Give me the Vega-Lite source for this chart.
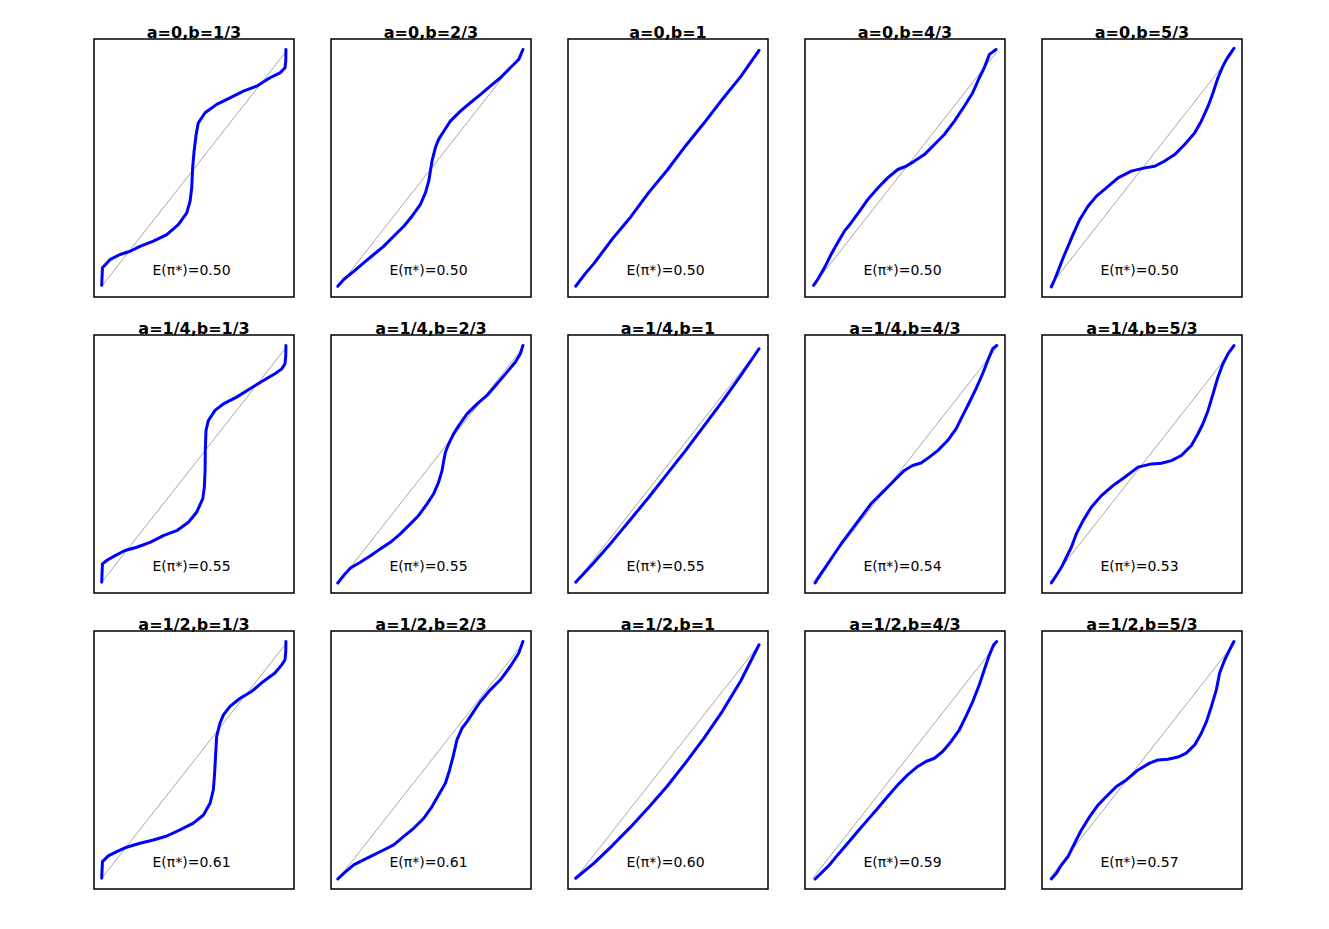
{
"$schema":"https://vega.github.io/schema/vega-lite/v6.json",
"padding":{"left":93,"top":24,"right":10,"bottom":10},
"background":"white",
"data":{"values":[
{"p":"a=0,b=1/3","k":"c","x":0,"y":0.004},{"p":"a=0,b=1/3","k":"c","x":0.004,"y":0.079},{"p":"a=0,b=1/3","k":"c","x":0.045,"y":0.114},{"p":"a=0,b=1/3","k":"c","x":0.1,"y":0.136},{"p":"a=0,b=1/3","k":"c","x":0.155,"y":0.15},{"p":"a=0,b=1/3","k":"c","x":0.209,"y":0.171},{"p":"a=0,b=1/3","k":"c","x":0.282,"y":0.193},{"p":"a=0,b=1/3","k":"c","x":0.355,"y":0.221},{"p":"a=0,b=1/3","k":"c","x":0.418,"y":0.264},{"p":"a=0,b=1/3","k":"c","x":0.464,"y":0.314},{"p":"a=0,b=1/3","k":"c","x":0.482,"y":0.364},{"p":"a=0,b=1/3","k":"c","x":0.491,"y":0.421},{"p":"a=0,b=1/3","k":"c","x":0.496,"y":0.507},{"p":"a=0,b=1/3","k":"c","x":0.504,"y":0.579},{"p":"a=0,b=1/3","k":"c","x":0.515,"y":0.65},{"p":"a=0,b=1/3","k":"c","x":0.527,"y":0.7},{"p":"a=0,b=1/3","k":"c","x":0.564,"y":0.743},{"p":"a=0,b=1/3","k":"c","x":0.627,"y":0.779},{"p":"a=0,b=1/3","k":"c","x":0.7,"y":0.807},{"p":"a=0,b=1/3","k":"c","x":0.773,"y":0.836},{"p":"a=0,b=1/3","k":"c","x":0.845,"y":0.857},{"p":"a=0,b=1/3","k":"c","x":0.918,"y":0.893},{"p":"a=0,b=1/3","k":"c","x":0.973,"y":0.914},{"p":"a=0,b=1/3","k":"c","x":1.0,"y":0.936},{"p":"a=0,b=1/3","k":"c","x":1.004,"y":0.964},{"p":"a=0,b=1/3","k":"c","x":1.005,"y":1.014},
{"p":"a=0,b=2/3","k":"c","x":-0.005,"y":0},{"p":"a=0,b=2/3","k":"c","x":0.027,"y":0.029},{"p":"a=0,b=2/3","k":"c","x":0.082,"y":0.064},{"p":"a=0,b=2/3","k":"c","x":0.136,"y":0.1},{"p":"a=0,b=2/3","k":"c","x":0.191,"y":0.136},{"p":"a=0,b=2/3","k":"c","x":0.245,"y":0.171},{"p":"a=0,b=2/3","k":"c","x":0.3,"y":0.214},{"p":"a=0,b=2/3","k":"c","x":0.355,"y":0.257},{"p":"a=0,b=2/3","k":"c","x":0.4,"y":0.3},{"p":"a=0,b=2/3","k":"c","x":0.445,"y":0.35},{"p":"a=0,b=2/3","k":"c","x":0.473,"y":0.4},{"p":"a=0,b=2/3","k":"c","x":0.491,"y":0.45},{"p":"a=0,b=2/3","k":"c","x":0.5,"y":0.493},{"p":"a=0,b=2/3","k":"c","x":0.509,"y":0.536},{"p":"a=0,b=2/3","k":"c","x":0.527,"y":0.593},{"p":"a=0,b=2/3","k":"c","x":0.545,"y":0.629},{"p":"a=0,b=2/3","k":"c","x":0.573,"y":0.664},{"p":"a=0,b=2/3","k":"c","x":0.609,"y":0.707},{"p":"a=0,b=2/3","k":"c","x":0.664,"y":0.75},{"p":"a=0,b=2/3","k":"c","x":0.718,"y":0.786},{"p":"a=0,b=2/3","k":"c","x":0.773,"y":0.821},{"p":"a=0,b=2/3","k":"c","x":0.827,"y":0.857},{"p":"a=0,b=2/3","k":"c","x":0.882,"y":0.893},{"p":"a=0,b=2/3","k":"c","x":0.936,"y":0.936},{"p":"a=0,b=2/3","k":"c","x":0.982,"y":0.971},{"p":"a=0,b=2/3","k":"c","x":1.005,"y":1.014},
{"p":"a=0,b=1","k":"c","x":0,"y":0},{"p":"a=0,b=1","k":"c","x":0.05,"y":0.052},{"p":"a=0,b=1","k":"c","x":0.1,"y":0.098},{"p":"a=0,b=1","k":"c","x":0.2,"y":0.203},{"p":"a=0,b=1","k":"c","x":0.3,"y":0.297},{"p":"a=0,b=1","k":"c","x":0.4,"y":0.403},{"p":"a=0,b=1","k":"c","x":0.5,"y":0.498},{"p":"a=0,b=1","k":"c","x":0.6,"y":0.602},{"p":"a=0,b=1","k":"c","x":0.7,"y":0.699},{"p":"a=0,b=1","k":"c","x":0.8,"y":0.801},{"p":"a=0,b=1","k":"c","x":0.9,"y":0.898},{"p":"a=0,b=1","k":"c","x":1.0,"y":1.01},
{"p":"a=0,b=4/3","k":"c","x":0.005,"y":0.004},{"p":"a=0,b=4/3","k":"c","x":0.027,"y":0.029},{"p":"a=0,b=4/3","k":"c","x":0.064,"y":0.079},{"p":"a=0,b=4/3","k":"c","x":0.1,"y":0.136},{"p":"a=0,b=4/3","k":"c","x":0.136,"y":0.186},{"p":"a=0,b=4/3","k":"c","x":0.173,"y":0.236},{"p":"a=0,b=4/3","k":"c","x":0.209,"y":0.271},{"p":"a=0,b=4/3","k":"c","x":0.255,"y":0.321},{"p":"a=0,b=4/3","k":"c","x":0.3,"y":0.371},{"p":"a=0,b=4/3","k":"c","x":0.355,"y":0.421},{"p":"a=0,b=4/3","k":"c","x":0.409,"y":0.464},{"p":"a=0,b=4/3","k":"c","x":0.464,"y":0.5},{"p":"a=0,b=4/3","k":"c","x":0.509,"y":0.514},{"p":"a=0,b=4/3","k":"c","x":0.555,"y":0.536},{"p":"a=0,b=4/3","k":"c","x":0.609,"y":0.564},{"p":"a=0,b=4/3","k":"c","x":0.664,"y":0.607},{"p":"a=0,b=4/3","k":"c","x":0.718,"y":0.65},{"p":"a=0,b=4/3","k":"c","x":0.773,"y":0.707},{"p":"a=0,b=4/3","k":"c","x":0.827,"y":0.771},{"p":"a=0,b=4/3","k":"c","x":0.873,"y":0.829},{"p":"a=0,b=4/3","k":"c","x":0.909,"y":0.893},{"p":"a=0,b=4/3","k":"c","x":0.936,"y":0.936},{"p":"a=0,b=4/3","k":"c","x":0.964,"y":0.993},{"p":"a=0,b=4/3","k":"c","x":1.0,"y":1.014},
{"p":"a=0,b=5/3","k":"c","x":0.009,"y":-0.003},{"p":"a=0,b=5/3","k":"c","x":0.027,"y":0.029},{"p":"a=0,b=5/3","k":"c","x":0.045,"y":0.064},{"p":"a=0,b=5/3","k":"c","x":0.073,"y":0.121},{"p":"a=0,b=5/3","k":"c","x":0.1,"y":0.171},{"p":"a=0,b=5/3","k":"c","x":0.127,"y":0.221},{"p":"a=0,b=5/3","k":"c","x":0.164,"y":0.286},{"p":"a=0,b=5/3","k":"c","x":0.209,"y":0.343},{"p":"a=0,b=5/3","k":"c","x":0.255,"y":0.386},{"p":"a=0,b=5/3","k":"c","x":0.309,"y":0.421},{"p":"a=0,b=5/3","k":"c","x":0.373,"y":0.464},{"p":"a=0,b=5/3","k":"c","x":0.445,"y":0.493},{"p":"a=0,b=5/3","k":"c","x":0.518,"y":0.507},{"p":"a=0,b=5/3","k":"c","x":0.573,"y":0.514},{"p":"a=0,b=5/3","k":"c","x":0.627,"y":0.536},{"p":"a=0,b=5/3","k":"c","x":0.682,"y":0.564},{"p":"a=0,b=5/3","k":"c","x":0.736,"y":0.607},{"p":"a=0,b=5/3","k":"c","x":0.791,"y":0.657},{"p":"a=0,b=5/3","k":"c","x":0.827,"y":0.707},{"p":"a=0,b=5/3","k":"c","x":0.864,"y":0.771},{"p":"a=0,b=5/3","k":"c","x":0.891,"y":0.829},{"p":"a=0,b=5/3","k":"c","x":0.918,"y":0.893},{"p":"a=0,b=5/3","k":"c","x":0.945,"y":0.943},{"p":"a=0,b=5/3","k":"c","x":0.964,"y":0.971},{"p":"a=0,b=5/3","k":"c","x":0.982,"y":0.993},{"p":"a=0,b=5/3","k":"c","x":1.005,"y":1.019},
{"p":"a=1/4,b=1/3","k":"c","x":0,"y":0},{"p":"a=1/4,b=1/3","k":"c","x":0.004,"y":0.079},{"p":"a=1/4,b=1/3","k":"c","x":0.027,"y":0.093},{"p":"a=1/4,b=1/3","k":"c","x":0.073,"y":0.114},{"p":"a=1/4,b=1/3","k":"c","x":0.127,"y":0.136},{"p":"a=1/4,b=1/3","k":"c","x":0.191,"y":0.15},{"p":"a=1/4,b=1/3","k":"c","x":0.264,"y":0.171},{"p":"a=1/4,b=1/3","k":"c","x":0.336,"y":0.2},{"p":"a=1/4,b=1/3","k":"c","x":0.409,"y":0.221},{"p":"a=1/4,b=1/3","k":"c","x":0.473,"y":0.257},{"p":"a=1/4,b=1/3","k":"c","x":0.518,"y":0.3},{"p":"a=1/4,b=1/3","k":"c","x":0.551,"y":0.357},{"p":"a=1/4,b=1/3","k":"c","x":0.56,"y":0.407},{"p":"a=1/4,b=1/3","k":"c","x":0.564,"y":0.479},{"p":"a=1/4,b=1/3","k":"c","x":0.565,"y":0.564},{"p":"a=1/4,b=1/3","k":"c","x":0.569,"y":0.65},{"p":"a=1/4,b=1/3","k":"c","x":0.582,"y":0.693},{"p":"a=1/4,b=1/3","k":"c","x":0.618,"y":0.736},{"p":"a=1/4,b=1/3","k":"c","x":0.664,"y":0.764},{"p":"a=1/4,b=1/3","k":"c","x":0.736,"y":0.793},{"p":"a=1/4,b=1/3","k":"c","x":0.809,"y":0.829},{"p":"a=1/4,b=1/3","k":"c","x":0.882,"y":0.864},{"p":"a=1/4,b=1/3","k":"c","x":0.945,"y":0.893},{"p":"a=1/4,b=1/3","k":"c","x":0.982,"y":0.914},{"p":"a=1/4,b=1/3","k":"c","x":1.0,"y":0.936},{"p":"a=1/4,b=1/3","k":"c","x":1.004,"y":0.971},{"p":"a=1/4,b=1/3","k":"c","x":1.005,"y":1.014},
{"p":"a=1/4,b=2/3","k":"c","x":-0.005,"y":-0.003},{"p":"a=1/4,b=2/3","k":"c","x":0.027,"y":0.029},{"p":"a=1/4,b=2/3","k":"c","x":0.064,"y":0.061},{"p":"a=1/4,b=2/3","k":"c","x":0.118,"y":0.086},{"p":"a=1/4,b=2/3","k":"c","x":0.173,"y":0.114},{"p":"a=1/4,b=2/3","k":"c","x":0.227,"y":0.143},{"p":"a=1/4,b=2/3","k":"c","x":0.282,"y":0.171},{"p":"a=1/4,b=2/3","k":"c","x":0.336,"y":0.207},{"p":"a=1/4,b=2/3","k":"c","x":0.391,"y":0.25},{"p":"a=1/4,b=2/3","k":"c","x":0.436,"y":0.286},{"p":"a=1/4,b=2/3","k":"c","x":0.482,"y":0.336},{"p":"a=1/4,b=2/3","k":"c","x":0.518,"y":0.379},{"p":"a=1/4,b=2/3","k":"c","x":0.545,"y":0.429},{"p":"a=1/4,b=2/3","k":"c","x":0.564,"y":0.479},{"p":"a=1/4,b=2/3","k":"c","x":0.573,"y":0.521},{"p":"a=1/4,b=2/3","k":"c","x":0.582,"y":0.557},{"p":"a=1/4,b=2/3","k":"c","x":0.6,"y":0.593},{"p":"a=1/4,b=2/3","k":"c","x":0.627,"y":0.636},{"p":"a=1/4,b=2/3","k":"c","x":0.655,"y":0.671},{"p":"a=1/4,b=2/3","k":"c","x":0.7,"y":0.721},{"p":"a=1/4,b=2/3","k":"c","x":0.755,"y":0.764},{"p":"a=1/4,b=2/3","k":"c","x":0.809,"y":0.8},{"p":"a=1/4,b=2/3","k":"c","x":0.864,"y":0.85},{"p":"a=1/4,b=2/3","k":"c","x":0.918,"y":0.9},{"p":"a=1/4,b=2/3","k":"c","x":0.964,"y":0.943},{"p":"a=1/4,b=2/3","k":"c","x":0.991,"y":0.979},{"p":"a=1/4,b=2/3","k":"c","x":1.005,"y":1.014},
{"p":"a=1/4,b=1","k":"c","x":0,"y":0},{"p":"a=1/4,b=1","k":"c","x":0.1,"y":0.085},{"p":"a=1/4,b=1","k":"c","x":0.2,"y":0.175},{"p":"a=1/4,b=1","k":"c","x":0.3,"y":0.27},{"p":"a=1/4,b=1","k":"c","x":0.4,"y":0.365},{"p":"a=1/4,b=1","k":"c","x":0.5,"y":0.465},{"p":"a=1/4,b=1","k":"c","x":0.6,"y":0.565},{"p":"a=1/4,b=1","k":"c","x":0.7,"y":0.67},{"p":"a=1/4,b=1","k":"c","x":0.8,"y":0.775},{"p":"a=1/4,b=1","k":"c","x":0.9,"y":0.885},{"p":"a=1/4,b=1","k":"c","x":1.0,"y":1.0},
{"p":"a=1/4,b=4/3","k":"c","x":0.013,"y":-0.003},{"p":"a=1/4,b=4/3","k":"c","x":0.045,"y":0.036},{"p":"a=1/4,b=4/3","k":"c","x":0.082,"y":0.079},{"p":"a=1/4,b=4/3","k":"c","x":0.118,"y":0.121},{"p":"a=1/4,b=4/3","k":"c","x":0.155,"y":0.164},{"p":"a=1/4,b=4/3","k":"c","x":0.209,"y":0.221},{"p":"a=1/4,b=4/3","k":"c","x":0.264,"y":0.279},{"p":"a=1/4,b=4/3","k":"c","x":0.318,"y":0.336},{"p":"a=1/4,b=4/3","k":"c","x":0.382,"y":0.386},{"p":"a=1/4,b=4/3","k":"c","x":0.445,"y":0.436},{"p":"a=1/4,b=4/3","k":"c","x":0.5,"y":0.479},{"p":"a=1/4,b=4/3","k":"c","x":0.545,"y":0.5},{"p":"a=1/4,b=4/3","k":"c","x":0.591,"y":0.511},{"p":"a=1/4,b=4/3","k":"c","x":0.636,"y":0.536},{"p":"a=1/4,b=4/3","k":"c","x":0.682,"y":0.564},{"p":"a=1/4,b=4/3","k":"c","x":0.736,"y":0.607},{"p":"a=1/4,b=4/3","k":"c","x":0.782,"y":0.657},{"p":"a=1/4,b=4/3","k":"c","x":0.818,"y":0.714},{"p":"a=1/4,b=4/3","k":"c","x":0.855,"y":0.771},{"p":"a=1/4,b=4/3","k":"c","x":0.891,"y":0.829},{"p":"a=1/4,b=4/3","k":"c","x":0.927,"y":0.893},{"p":"a=1/4,b=4/3","k":"c","x":0.955,"y":0.95},{"p":"a=1/4,b=4/3","k":"c","x":0.982,"y":1.0},{"p":"a=1/4,b=4/3","k":"c","x":1.004,"y":1.014},
{"p":"a=1/4,b=5/3","k":"c","x":0.009,"y":-0.003},{"p":"a=1/4,b=5/3","k":"c","x":0.036,"y":0.029},{"p":"a=1/4,b=5/3","k":"c","x":0.064,"y":0.064},{"p":"a=1/4,b=5/3","k":"c","x":0.091,"y":0.107},{"p":"a=1/4,b=5/3","k":"c","x":0.118,"y":0.15},{"p":"a=1/4,b=5/3","k":"c","x":0.145,"y":0.207},{"p":"a=1/4,b=5/3","k":"c","x":0.182,"y":0.264},{"p":"a=1/4,b=5/3","k":"c","x":0.227,"y":0.321},{"p":"a=1/4,b=5/3","k":"c","x":0.282,"y":0.371},{"p":"a=1/4,b=5/3","k":"c","x":0.345,"y":0.414},{"p":"a=1/4,b=5/3","k":"c","x":0.409,"y":0.45},{"p":"a=1/4,b=5/3","k":"c","x":0.482,"y":0.493},{"p":"a=1/4,b=5/3","k":"c","x":0.555,"y":0.507},{"p":"a=1/4,b=5/3","k":"c","x":0.609,"y":0.51},{"p":"a=1/4,b=5/3","k":"c","x":0.664,"y":0.521},{"p":"a=1/4,b=5/3","k":"c","x":0.718,"y":0.543},{"p":"a=1/4,b=5/3","k":"c","x":0.773,"y":0.586},{"p":"a=1/4,b=5/3","k":"c","x":0.809,"y":0.636},{"p":"a=1/4,b=5/3","k":"c","x":0.836,"y":0.679},{"p":"a=1/4,b=5/3","k":"c","x":0.864,"y":0.736},{"p":"a=1/4,b=5/3","k":"c","x":0.891,"y":0.807},{"p":"a=1/4,b=5/3","k":"c","x":0.918,"y":0.879},{"p":"a=1/4,b=5/3","k":"c","x":0.945,"y":0.936},{"p":"a=1/4,b=5/3","k":"c","x":0.973,"y":0.979},{"p":"a=1/4,b=5/3","k":"c","x":1.005,"y":1.014},
{"p":"a=1/2,b=1/3","k":"c","x":0,"y":0},{"p":"a=1/2,b=1/3","k":"c","x":0.004,"y":0.071},{"p":"a=1/2,b=1/3","k":"c","x":0.036,"y":0.096},{"p":"a=1/2,b=1/3","k":"c","x":0.082,"y":0.114},{"p":"a=1/2,b=1/3","k":"c","x":0.136,"y":0.133},{"p":"a=1/2,b=1/3","k":"c","x":0.209,"y":0.15},{"p":"a=1/2,b=1/3","k":"c","x":0.282,"y":0.164},{"p":"a=1/2,b=1/3","k":"c","x":0.355,"y":0.181},{"p":"a=1/2,b=1/3","k":"c","x":0.427,"y":0.207},{"p":"a=1/2,b=1/3","k":"c","x":0.5,"y":0.236},{"p":"a=1/2,b=1/3","k":"c","x":0.555,"y":0.271},{"p":"a=1/2,b=1/3","k":"c","x":0.591,"y":0.321},{"p":"a=1/2,b=1/3","k":"c","x":0.609,"y":0.379},{"p":"a=1/2,b=1/3","k":"c","x":0.616,"y":0.45},{"p":"a=1/2,b=1/3","k":"c","x":0.622,"y":0.536},{"p":"a=1/2,b=1/3","k":"c","x":0.627,"y":0.607},{"p":"a=1/2,b=1/3","k":"c","x":0.645,"y":0.664},{"p":"a=1/2,b=1/3","k":"c","x":0.664,"y":0.7},{"p":"a=1/2,b=1/3","k":"c","x":0.7,"y":0.736},{"p":"a=1/2,b=1/3","k":"c","x":0.755,"y":0.771},{"p":"a=1/2,b=1/3","k":"c","x":0.818,"y":0.8},{"p":"a=1/2,b=1/3","k":"c","x":0.882,"y":0.843},{"p":"a=1/2,b=1/3","k":"c","x":0.945,"y":0.879},{"p":"a=1/2,b=1/3","k":"c","x":0.982,"y":0.914},{"p":"a=1/2,b=1/3","k":"c","x":1.0,"y":0.936},{"p":"a=1/2,b=1/3","k":"c","x":1.004,"y":0.971},{"p":"a=1/2,b=1/3","k":"c","x":1.005,"y":1.014},
{"p":"a=1/2,b=2/3","k":"c","x":-0.005,"y":-0.003},{"p":"a=1/2,b=2/3","k":"c","x":0.027,"y":0.021},{"p":"a=1/2,b=2/3","k":"c","x":0.082,"y":0.057},{"p":"a=1/2,b=2/3","k":"c","x":0.136,"y":0.079},{"p":"a=1/2,b=2/3","k":"c","x":0.191,"y":0.1},{"p":"a=1/2,b=2/3","k":"c","x":0.245,"y":0.121},{"p":"a=1/2,b=2/3","k":"c","x":0.3,"y":0.143},{"p":"a=1/2,b=2/3","k":"c","x":0.355,"y":0.179},{"p":"a=1/2,b=2/3","k":"c","x":0.409,"y":0.214},{"p":"a=1/2,b=2/3","k":"c","x":0.464,"y":0.257},{"p":"a=1/2,b=2/3","k":"c","x":0.509,"y":0.307},{"p":"a=1/2,b=2/3","k":"c","x":0.545,"y":0.357},{"p":"a=1/2,b=2/3","k":"c","x":0.582,"y":0.407},{"p":"a=1/2,b=2/3","k":"c","x":0.605,"y":0.464},{"p":"a=1/2,b=2/3","k":"c","x":0.624,"y":0.521},{"p":"a=1/2,b=2/3","k":"c","x":0.645,"y":0.593},{"p":"a=1/2,b=2/3","k":"c","x":0.673,"y":0.643},{"p":"a=1/2,b=2/3","k":"c","x":0.7,"y":0.671},{"p":"a=1/2,b=2/3","k":"c","x":0.736,"y":0.714},{"p":"a=1/2,b=2/3","k":"c","x":0.773,"y":0.757},{"p":"a=1/2,b=2/3","k":"c","x":0.827,"y":0.807},{"p":"a=1/2,b=2/3","k":"c","x":0.882,"y":0.85},{"p":"a=1/2,b=2/3","k":"c","x":0.936,"y":0.907},{"p":"a=1/2,b=2/3","k":"c","x":0.982,"y":0.964},{"p":"a=1/2,b=2/3","k":"c","x":1.005,"y":1.014},
{"p":"a=1/2,b=1","k":"c","x":0,"y":0},{"p":"a=1/2,b=1","k":"c","x":0.1,"y":0.065},{"p":"a=1/2,b=1","k":"c","x":0.2,"y":0.14},{"p":"a=1/2,b=1","k":"c","x":0.3,"y":0.22},{"p":"a=1/2,b=1","k":"c","x":0.4,"y":0.305},{"p":"a=1/2,b=1","k":"c","x":0.5,"y":0.395},{"p":"a=1/2,b=1","k":"c","x":0.6,"y":0.495},{"p":"a=1/2,b=1","k":"c","x":0.7,"y":0.6},{"p":"a=1/2,b=1","k":"c","x":0.8,"y":0.715},{"p":"a=1/2,b=1","k":"c","x":0.9,"y":0.845},{"p":"a=1/2,b=1","k":"c","x":1.0,"y":1.0},
{"p":"a=1/2,b=4/3","k":"c","x":0.013,"y":-0.003},{"p":"a=1/2,b=4/3","k":"c","x":0.045,"y":0.021},{"p":"a=1/2,b=4/3","k":"c","x":0.091,"y":0.057},{"p":"a=1/2,b=4/3","k":"c","x":0.136,"y":0.1},{"p":"a=1/2,b=4/3","k":"c","x":0.191,"y":0.15},{"p":"a=1/2,b=4/3","k":"c","x":0.245,"y":0.2},{"p":"a=1/2,b=4/3","k":"c","x":0.3,"y":0.25},{"p":"a=1/2,b=4/3","k":"c","x":0.355,"y":0.3},{"p":"a=1/2,b=4/3","k":"c","x":0.409,"y":0.35},{"p":"a=1/2,b=4/3","k":"c","x":0.464,"y":0.4},{"p":"a=1/2,b=4/3","k":"c","x":0.518,"y":0.443},{"p":"a=1/2,b=4/3","k":"c","x":0.573,"y":0.479},{"p":"a=1/2,b=4/3","k":"c","x":0.618,"y":0.5},{"p":"a=1/2,b=4/3","k":"c","x":0.664,"y":0.514},{"p":"a=1/2,b=4/3","k":"c","x":0.709,"y":0.543},{"p":"a=1/2,b=4/3","k":"c","x":0.755,"y":0.586},{"p":"a=1/2,b=4/3","k":"c","x":0.8,"y":0.636},{"p":"a=1/2,b=4/3","k":"c","x":0.836,"y":0.693},{"p":"a=1/2,b=4/3","k":"c","x":0.873,"y":0.757},{"p":"a=1/2,b=4/3","k":"c","x":0.909,"y":0.829},{"p":"a=1/2,b=4/3","k":"c","x":0.936,"y":0.893},{"p":"a=1/2,b=4/3","k":"c","x":0.964,"y":0.957},{"p":"a=1/2,b=4/3","k":"c","x":0.987,"y":1.0},{"p":"a=1/2,b=4/3","k":"c","x":1.004,"y":1.014},
{"p":"a=1/2,b=5/3","k":"c","x":0.009,"y":-0.003},{"p":"a=1/2,b=5/3","k":"c","x":0.036,"y":0.021},{"p":"a=1/2,b=5/3","k":"c","x":0.064,"y":0.057},{"p":"a=1/2,b=5/3","k":"c","x":0.1,"y":0.093},{"p":"a=1/2,b=5/3","k":"c","x":0.136,"y":0.15},{"p":"a=1/2,b=5/3","k":"c","x":0.173,"y":0.207},{"p":"a=1/2,b=5/3","k":"c","x":0.218,"y":0.264},{"p":"a=1/2,b=5/3","k":"c","x":0.264,"y":0.314},{"p":"a=1/2,b=5/3","k":"c","x":0.309,"y":0.35},{"p":"a=1/2,b=5/3","k":"c","x":0.364,"y":0.393},{"p":"a=1/2,b=5/3","k":"c","x":0.418,"y":0.421},{"p":"a=1/2,b=5/3","k":"c","x":0.482,"y":0.464},{"p":"a=1/2,b=5/3","k":"c","x":0.545,"y":0.493},{"p":"a=1/2,b=5/3","k":"c","x":0.591,"y":0.507},{"p":"a=1/2,b=5/3","k":"c","x":0.645,"y":0.51},{"p":"a=1/2,b=5/3","k":"c","x":0.7,"y":0.519},{"p":"a=1/2,b=5/3","k":"c","x":0.745,"y":0.536},{"p":"a=1/2,b=5/3","k":"c","x":0.791,"y":0.571},{"p":"a=1/2,b=5/3","k":"c","x":0.827,"y":0.621},{"p":"a=1/2,b=5/3","k":"c","x":0.855,"y":0.671},{"p":"a=1/2,b=5/3","k":"c","x":0.882,"y":0.736},{"p":"a=1/2,b=5/3","k":"c","x":0.909,"y":0.807},{"p":"a=1/2,b=5/3","k":"c","x":0.927,"y":0.879},{"p":"a=1/2,b=5/3","k":"c","x":0.955,"y":0.936},{"p":"a=1/2,b=5/3","k":"c","x":0.982,"y":0.979},{"p":"a=1/2,b=5/3","k":"c","x":1.005,"y":1.014},
{"p":"a=0,b=1/3","k":"d","x":0,"y":0},{"p":"a=0,b=1/3","k":"d","x":1,"y":1},
{"p":"a=0,b=2/3","k":"d","x":0,"y":0},{"p":"a=0,b=2/3","k":"d","x":1,"y":1},
{"p":"a=0,b=1","k":"d","x":0,"y":0},{"p":"a=0,b=1","k":"d","x":1,"y":1},
{"p":"a=0,b=4/3","k":"d","x":0,"y":0},{"p":"a=0,b=4/3","k":"d","x":1,"y":1},
{"p":"a=0,b=5/3","k":"d","x":0,"y":0},{"p":"a=0,b=5/3","k":"d","x":1,"y":1},
{"p":"a=1/4,b=1/3","k":"d","x":0,"y":0},{"p":"a=1/4,b=1/3","k":"d","x":1,"y":1},
{"p":"a=1/4,b=2/3","k":"d","x":0,"y":0},{"p":"a=1/4,b=2/3","k":"d","x":1,"y":1},
{"p":"a=1/4,b=1","k":"d","x":0,"y":0},{"p":"a=1/4,b=1","k":"d","x":1,"y":1},
{"p":"a=1/4,b=4/3","k":"d","x":0,"y":0},{"p":"a=1/4,b=4/3","k":"d","x":1,"y":1},
{"p":"a=1/4,b=5/3","k":"d","x":0,"y":0},{"p":"a=1/4,b=5/3","k":"d","x":1,"y":1},
{"p":"a=1/2,b=1/3","k":"d","x":0,"y":0},{"p":"a=1/2,b=1/3","k":"d","x":1,"y":1},
{"p":"a=1/2,b=2/3","k":"d","x":0,"y":0},{"p":"a=1/2,b=2/3","k":"d","x":1,"y":1},
{"p":"a=1/2,b=1","k":"d","x":0,"y":0},{"p":"a=1/2,b=1","k":"d","x":1,"y":1},
{"p":"a=1/2,b=4/3","k":"d","x":0,"y":0},{"p":"a=1/2,b=4/3","k":"d","x":1,"y":1},
{"p":"a=1/2,b=5/3","k":"d","x":0,"y":0},{"p":"a=1/2,b=5/3","k":"d","x":1,"y":1},
{"p":"a=0,b=1/3","k":"t","t":"E(π*)=0.50"},{"p":"a=0,b=2/3","k":"t","t":"E(π*)=0.50"},{"p":"a=0,b=1","k":"t","t":"E(π*)=0.50"},{"p":"a=0,b=4/3","k":"t","t":"E(π*)=0.50"},{"p":"a=0,b=5/3","k":"t","t":"E(π*)=0.50"},
{"p":"a=1/4,b=1/3","k":"t","t":"E(π*)=0.55"},{"p":"a=1/4,b=2/3","k":"t","t":"E(π*)=0.55"},{"p":"a=1/4,b=1","k":"t","t":"E(π*)=0.55"},{"p":"a=1/4,b=4/3","k":"t","t":"E(π*)=0.54"},{"p":"a=1/4,b=5/3","k":"t","t":"E(π*)=0.53"},
{"p":"a=1/2,b=1/3","k":"t","t":"E(π*)=0.61"},{"p":"a=1/2,b=2/3","k":"t","t":"E(π*)=0.61"},{"p":"a=1/2,b=1","k":"t","t":"E(π*)=0.60"},{"p":"a=1/2,b=4/3","k":"t","t":"E(π*)=0.59"},{"p":"a=1/2,b=5/3","k":"t","t":"E(π*)=0.57"}
]},
"facet":{"field":"p","type":"nominal",
 "sort":["a=0,b=1/3","a=0,b=2/3","a=0,b=1","a=0,b=4/3","a=0,b=5/3","a=1/4,b=1/3","a=1/4,b=2/3","a=1/4,b=1","a=1/4,b=4/3","a=1/4,b=5/3","a=1/2,b=1/3","a=1/2,b=2/3","a=1/2,b=1","a=1/2,b=4/3","a=1/2,b=5/3"],
 "header":{"title":null,"labelFont":"DejaVu Sans","labelFontSize":16,"labelFontWeight":"bold","labelColor":"#000000","labelPadding":-15,"labelBaseline":"alphabetic"}},
"columns":5,
"spacing":{"column":35,"row":22},
"spec":{
 "width":200,"height":258,
 "layer":[
  {"transform":[{"filter":"datum.k==='d'"}],
   "mark":{"type":"line","color":"#a8a8a8","strokeWidth":1},
   "encoding":{"x":{"field":"x","type":"quantitative","scale":{"domain":[-0.042,1.049],"nice":false,"zero":false},"axis":null},
               "y":{"field":"y","type":"quantitative","scale":{"domain":[-0.046,1.059],"nice":false,"zero":false},"axis":null}}},
  {"transform":[{"filter":"datum.k==='c'"}],
   "mark":{"type":"line","color":"#0000ff","strokeWidth":3,"strokeJoin":"round","strokeCap":"round"},
   "encoding":{"x":{"field":"x","type":"quantitative","scale":{"domain":[-0.042,1.049],"nice":false,"zero":false},"axis":null},
               "y":{"field":"y","type":"quantitative","scale":{"domain":[-0.046,1.059],"nice":false,"zero":false},"axis":null},
               "order":{"field":"y","type":"quantitative"}}},
  {"transform":[{"filter":"datum.k==='t'"}],
   "mark":{"type":"text","font":"DejaVu Sans","fontSize":14,"color":"#000000","align":"center","baseline":"middle"},
   "encoding":{"x":{"datum":0.49,"type":"quantitative"},"y":{"datum":0.067,"type":"quantitative"},"text":{"field":"t","type":"nominal"}}}
 ]
},
"config":{"view":{"stroke":"#000000","strokeWidth":1.5},"axis":{"grid":false}}
}
